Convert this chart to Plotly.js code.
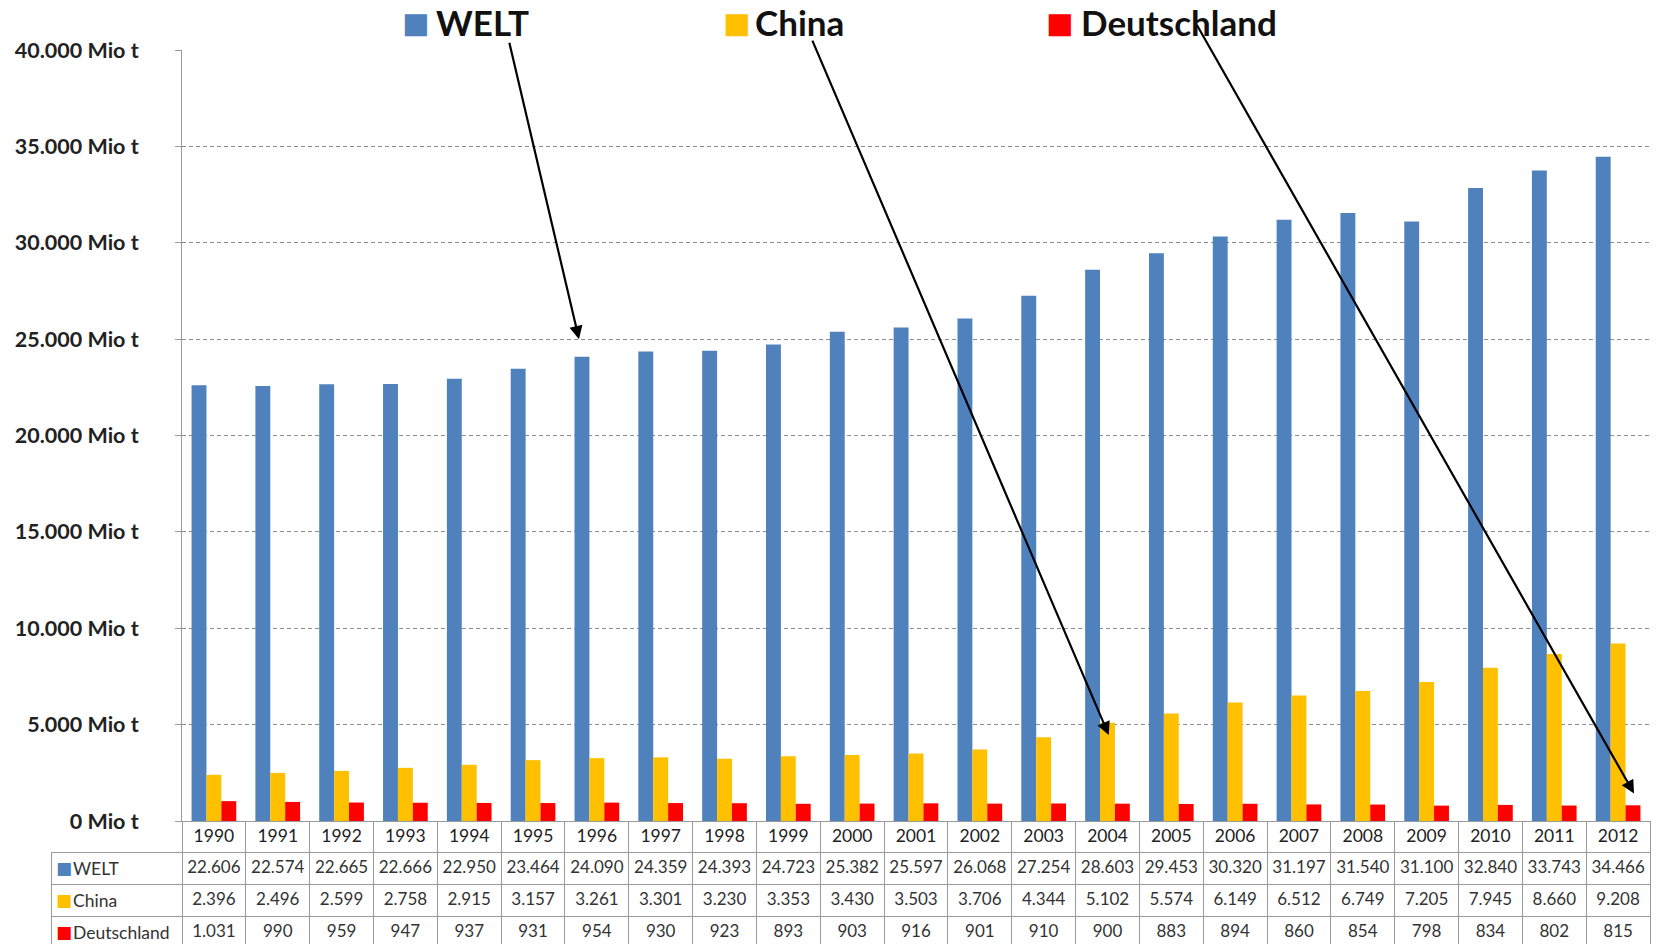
<!DOCTYPE html>
<html>
<head>
<meta charset="utf-8">
<script src="https://cdn.plot.ly/plotly-3.0.1.min.js"></script>
<style>
html,body{margin:0;padding:0;background:#fff;overflow:hidden;}
#chart{width:1663px;height:960px;}
</style>
</head>
<body>
<div id="chart"></div>
<script>
// ---- data ----
const years = ['1990','1991','1992','1993','1994','1995','1996','1997','1998','1999','2000','2001','2002','2003','2004','2005','2006','2007','2008','2009','2010','2011','2012'];
const welt = [22606,22574,22665,22666,22950,23464,24090,24359,24393,24723,25382,25597,26068,27254,28603,29453,30320,31197,31540,31100,32840,33743,34466];
const china = [2396,2496,2599,2758,2915,3157,3261,3301,3230,3353,3430,3503,3706,4344,5102,5574,6149,6512,6749,7205,7945,8660,9208];
const deutschland = [1031,990,959,947,937,931,954,930,923,893,903,916,901,910,900,883,894,860,854,798,834,802,815];
const seriesNames = ['WELT','China','Deutschland'];
const seriesColors = ['#4F81BD','#FFC000','#FF0000'];
const seriesValues = [welt, china, deutschland];

// ---- layout constants ----
const W = 1663, H = 960;   // page is cut at 944 like the reference
const mL = 51, mR = 13, mT = 50, mB = 0;
const pw = W - mL - mR, ph = H - mT - mB;
const plotLeft = 182, baseY = 821;
const xDom0 = (plotLeft - mL) / pw;
const yDom0 = (H - mB - baseY) / ph;
const headerH = 31, rowH = 32;

function fmt(v){ return String(v).replace(/\B(?=(\d{3})+(?!\d))/g, '.'); }

const traces = seriesNames.map((n, i) => ({
  type: 'bar', name: n, x: years, y: seriesValues[i],
  marker: {color: seriesColors[i], line: {width: 0}},
  hoverinfo: 'skip', showlegend: false
}));

// data table under the chart (row labels are drawn as annotations below)
const labelCol = seriesNames.map(() => '');
const cellCols = [labelCol].concat(years.map((y, j) => seriesValues.map(s => fmt(s[j]))));
const headerCols = [['']].concat(years.map(y => [y]));
const headerLine = ['rgba(0,0,0,0)'].concat(years.map(() => '#9a9a9a'));
const headerFill = ['rgba(0,0,0,0)'].concat(years.map(() => 'white'));
const labelW = plotLeft - mL;
const yearW = (pw - labelW) / years.length;

traces.push({
  type: 'table',
  domain: {x: [0, 1], y: [0, yDom0]},
  columnwidth: [labelW].concat(years.map(() => yearW)),
  header: {
    values: headerCols,
    align: 'center',
    height: headerH,
    line: {color: headerLine, width: 1},
    fill: {color: headerFill},
    font: {family: 'Lato', size: 17.5, color: '#222'}
  },
  cells: {
    values: cellCols,
    align: ['left'].concat(years.map(() => 'center')),
    height: rowH,
    line: {color: '#9a9a9a', width: 1},
    fill: {color: 'white'},
    font: {family: 'Lato', size: 17, color: '#333'}
  }
});

const annotations = [];

// coloured keys and labels of the table rows
seriesNames.forEach((n, i) => {
  const cy = baseY + headerH + rowH * i + rowH / 2;
  annotations.push({
    xref: 'paper', yref: 'paper',
    x: (54 - mL) / pw, y: (H - mB - cy) / ph,
    xanchor: 'left', yanchor: 'middle', showarrow: false,
    text: '■', font: {family: 'DejaVu Sans', size: 17, color: seriesColors[i]}
  });
  annotations.push({
    xref: 'paper', yref: 'paper',
    x: (71 - mL) / pw, y: (H - mB - cy) / ph,
    xanchor: 'left', yanchor: 'middle', showarrow: false,
    text: n, font: {family: 'Lato', size: 17.5, color: '#333'}
  });
});

// legend drawn as annotations: coloured square + label
const legendSq = [400, 721, 1044];
const legendTx = [434, 753, 1079];
seriesNames.forEach((n, i) => {
  annotations.push({
    xref: 'paper', yref: 'paper',
    x: (legendSq[i] - mL) / pw, y: (H - mB - 23) / ph,
    xanchor: 'left', yanchor: 'middle', showarrow: false,
    text: '■', font: {family: 'DejaVu Sans', size: 29, color: seriesColors[i]}
  });
  annotations.push({
    xref: 'paper', yref: 'paper',
    x: (legendTx[i] - mL) / pw, y: (H - mB - 22) / ph,
    xanchor: 'left', yanchor: 'middle', showarrow: false,
    text: n, font: {family: 'Lato', size: 35, color: '#111', weight: 'bold'}
  });
});

// arrows from legend to bars
const arrows = [
  {x: 5.72, y: 25000, ax: -70, ay: -298},
  {x: 14.02, y: 4457, ax: -297, ay: -696},
  {x: 22.25, y: 1430, ax: -438, ay: -770}
];
arrows.forEach(a => annotations.push({
  xref: 'x', yref: 'y', x: a.x, y: a.y, ax: a.ax, ay: a.ay,
  text: '', showarrow: true, arrowhead: 2, arrowsize: 1.2, arrowwidth: 2.2,
  arrowcolor: '#000', standoff: 0
}));

const layout = {
  width: W, height: H,
  margin: {l: mL, r: mR, t: mT, b: mB, pad: 0},
  paper_bgcolor: '#fff', plot_bgcolor: '#fff',
  separators: ',.',
  barmode: 'group', bargap: 0.3, bargroupgap: 0,
  showlegend: false,
  font: {family: 'Lato', color: '#222'},
  xaxis: {
    domain: [xDom0, 1], type: 'category',
    showticklabels: false, ticks: '', showgrid: false,
    showline: true, linecolor: '#9a9a9a', linewidth: 1, zeroline: false
  },
  yaxis: {
    domain: [yDom0, 1], range: [0, 40000], dtick: 5000,
    tickformat: ',d', ticksuffix: ' Mio t',
    tickfont: {family: 'Lato', size: 21.5, color: '#222', weight: 'bold'},
    ticks: 'outside', ticklen: 6, tickcolor: '#9a9a9a',
    ticklabelstandoff: 32,
    showgrid: true, gridcolor: '#8c8c8c', griddash: '4px,3px', gridwidth: 1,
    showline: true, linecolor: '#9a9a9a', linewidth: 1, zeroline: false
  },
  annotations: annotations
};

Plotly.newPlot('chart', traces, layout, {displayModeBar: false, staticPlot: true});
</script>
</body>
</html>
